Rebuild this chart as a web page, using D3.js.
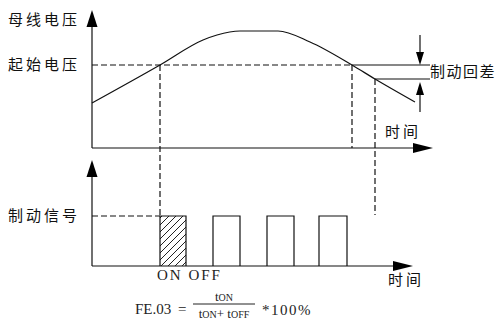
<!DOCTYPE html>
<html lang="zh">
<head>
    <meta charset="UTF-8">
    <title>制动信号</title>
    <script src="https://cdn.jsdelivr.net/npm/d3@7"></script>
    <style>
        html, body {
            margin: 0;
            background: #fff;
        }

        .cn {
            font-family: "Noto Sans CJK SC", sans-serif;
            font-size: 15px;
            letter-spacing: 3px;
            fill: #111;
        }

        .serif {
            font-family: "Liberation Serif", "DejaVu Serif", serif;
            fill: #222;
        }

        .line {
            fill: none;
            stroke: #111;
            stroke-width: 1.2px;
        }

        .dash {
            fill: none;
            stroke: #111;
            stroke-width: 1.2px;
            stroke-dasharray: 6, 3;
        }
    </style>
</head>
<body>
<script>

    // bus voltage curve (time, voltage)
    var curveTime = [0, 68, 111, 125, 148, 186, 218, 260, 283, 323];
    var curveVolt = [45, 83, 108, 113, 117, 117, 106, 83, 69, 46];

    var startVolt = 83;     // 起始电压
    var lowerVolt = 69;     // start voltage minus hysteresis
    var onTime = 68, offTime = 260, offTime2 = 283;

    // braking pulses
    var pulseStart = [68, 121, 175, 227];
    var pulseEnd = [94, 148, 202, 255];

    var labels = {
        busVolt: "母线电压",
        startVolt: "起始电压",
        hyst: "制动回差",
        time: "时间",
        signal: "制动信号"
    };

    var width = 500, height = 320;

    var svg = d3.select('body').append('svg')
        .attr('width', width)
        .attr('height', height);

    var x = d3.scaleLinear().domain([0, 341]).range([92, 433]);
    var y = d3.scaleLinear().domain([0, 138]).range([148, 10]);
    var y2 = d3.scaleLinear().domain([0, 2.12]).range([266, 160]);

    var data = curveTime.map(function (t, i) {
        return {t: t, v: curveVolt[i]};
    });

    // hatch pattern for the ON pulse
    var defs = svg.append('defs');
    defs.append('pattern')
        .attr('id', 'hatch')
        .attr('patternUnits', 'userSpaceOnUse')
        .attr('width', 7).attr('height', 7)
        .append('path')
        .attr('d', 'M-1,1 L1,-1 M0,7 L7,0 M6,8 L8,6')
        .attr('stroke', '#222')
        .attr('stroke-width', 1);

    function arrow(tipX, tipY, dir, len, half) {
        var p;
        if (dir === 'up') p = [[tipX, tipY], [tipX - half, tipY + len], [tipX + half, tipY + len]];
        else if (dir === 'down') p = [[tipX, tipY], [tipX - half, tipY - len], [tipX + half, tipY - len]];
        else p = [[tipX, tipY], [tipX - len, tipY - half], [tipX - len, tipY + half]];
        svg.append('path')
            .attr('d', 'M' + p.join('L') + 'Z')
            .attr('fill', '#000');
    }

    // ---------- top panel ----------
    svg.append('line').attr('class', 'line')
        .attr('x1', x(0)).attr('x2', x(0))
        .attr('y1', y(0)).attr('y2', y(128));
    arrow(x(0), y(138), 'up', 17, 5.5);

    svg.append('line').attr('class', 'line')
        .attr('x1', x(0)).attr('x2', x(331))
        .attr('y1', y(0)).attr('y2', y(0));
    arrow(x(341), y(0), 'right', 20, 5);

    var line = d3.line()
        .x(function (d) { return x(d.t); })
        .y(function (d) { return y(d.v); })
        .curve(d3.curveMonotoneX);

    svg.append('path').attr('class', 'line').attr('d', line(data));

    // start voltage dashed level
    svg.append('line').attr('class', 'dash')
        .attr('x1', x(0)).attr('x2', x(offTime))
        .attr('y1', y(startVolt)).attr('y2', y(startVolt));

    // hysteresis markers
    svg.append('line').attr('class', 'line')
        .attr('x1', x(offTime)).attr('x2', x(338))
        .attr('y1', y(startVolt)).attr('y2', y(startVolt));
    svg.append('line').attr('class', 'line')
        .attr('x1', x(offTime2)).attr('x2', x(338))
        .attr('y1', y(lowerVolt)).attr('y2', y(lowerVolt));

    svg.append('line').attr('class', 'line')
        .attr('x1', x(328)).attr('x2', x(328))
        .attr('y1', y(113)).attr('y2', y(startVolt + 10));
    arrow(x(328), y(startVolt), 'down', 13, 4);
    svg.append('line').attr('class', 'line')
        .attr('x1', x(328)).attr('x2', x(328))
        .attr('y1', y(36)).attr('y2', y(lowerVolt - 10));
    arrow(x(328), y(lowerVolt - 3), 'up', 13, 4);

    // vertical dashed guides
    svg.append('line').attr('class', 'dash')
        .attr('x1', x(onTime)).attr('x2', x(onTime))
        .attr('y1', y(startVolt)).attr('y2', y2(1));
    svg.append('line').attr('class', 'dash')
        .attr('x1', x(offTime)).attr('x2', x(offTime))
        .attr('y1', y(startVolt)).attr('y2', y(0));
    svg.append('line').attr('class', 'dash')
        .attr('x1', x(offTime2)).attr('x2', x(offTime2))
        .attr('y1', y(lowerVolt)).attr('y2', y2(1.02));

    svg.append('text').attr('class', 'cn')
        .attr('x', 8).attr('y', y(128)).attr('dy', '0.35em')
        .text(labels.busVolt);
    svg.append('text').attr('class', 'cn')
        .attr('x', 8).attr('y', y(startVolt)).attr('dy', '0.35em')
        .text(labels.startVolt);
    svg.append('text').attr('class', 'cn')
        .attr('x', x(338)).attr('y', y((startVolt + lowerVolt) / 2)).attr('dy', '0.35em')
        .style('letter-spacing', '1.5px')
        .text(labels.hyst);
    svg.append('text').attr('class', 'cn')
        .attr('x', x(293)).attr('y', y(16)).attr('dy', '0.35em')
        .text(labels.time);

    // ---------- bottom panel ----------
    svg.append('line').attr('class', 'line')
        .attr('x1', x(0)).attr('x2', x(0))
        .attr('y1', y2(0)).attr('y2', y2(1.9));
    arrow(x(0), y2(2.12), 'up', 17, 5.5);

    svg.append('line').attr('class', 'line')
        .attr('x1', x(0)).attr('x2', x(311))
        .attr('y1', y2(0)).attr('y2', y2(0));
    arrow(x(321), y2(0), 'right', 20, 5);

    svg.append('line').attr('class', 'dash')
        .attr('x1', x(0)).attr('x2', x(onTime))
        .attr('y1', y2(1)).attr('y2', y2(1));

    svg.selectAll('.pulse')
        .data(pulseStart)
        .enter().append('path')
        .attr('class', 'line pulse')
        .attr('d', function (s, i) {
            return 'M' + x(s) + ',' + y2(0) + 'V' + y2(1) + 'H' + x(pulseEnd[i]) + 'V' + y2(0);
        })
        .style('fill', function (s, i) {
            return i === 0 ? 'url(#hatch)' : 'none';
        });

    svg.append('text').attr('class', 'cn')
        .attr('x', 8).attr('y', y2(1)).attr('dy', '0.35em')
        .text(labels.signal);
    svg.append('text').attr('class', 'cn')
        .attr('x', x(296)).attr('y', y2(-0.27)).attr('dy', '0.35em')
        .text(labels.time);

    svg.append('text').attr('class', 'serif')
        .attr('x', x(65)).attr('y', y2(-0.18)).attr('dy', '0.35em')
        .style('font-size', '15px').style('letter-spacing', '2px')
        .text('ON OFF');

    // formula
    var fx = 135, fy = 309;
    svg.append('text').attr('class', 'serif')
        .attr('x', fx).attr('y', fy).attr('dy', '0.35em')
        .style('font-size', '15px')
        .text('FE.03');
    svg.append('text').attr('class', 'serif')
        .attr('x', 178).attr('y', fy).attr('dy', '0.35em')
        .style('font-size', '15px')
        .text('=');
    svg.append('line')
        .attr('x1', 193).attr('x2', 255)
        .attr('y1', fy - 5).attr('y2', fy - 5)
        .attr('stroke', '#222').attr('stroke-width', 1);
    var num = svg.append('text').attr('class', 'serif')
        .attr('x', 224).attr('y', fy - 8)
        .attr('text-anchor', 'middle')
        .style('font-size', '13px');
    num.append('tspan').text('t');
    num.append('tspan').style('font-size', '10px').text('ON');
    var den = svg.append('text').attr('class', 'serif')
        .attr('x', 224).attr('y', fy + 9)
        .attr('text-anchor', 'middle')
        .style('font-size', '13px');
    den.append('tspan').text('t');
    den.append('tspan').style('font-size', '10px').text('ON');
    den.append('tspan').text('+ t');
    den.append('tspan').style('font-size', '10px').text('OFF');
    svg.append('text').attr('class', 'serif')
        .attr('x', 262).attr('y', fy + 1).attr('dy', '0.35em')
        .style('font-size', '15px').style('letter-spacing', '1.5px')
        .text('*100%');

</script>
</body>
</html>
